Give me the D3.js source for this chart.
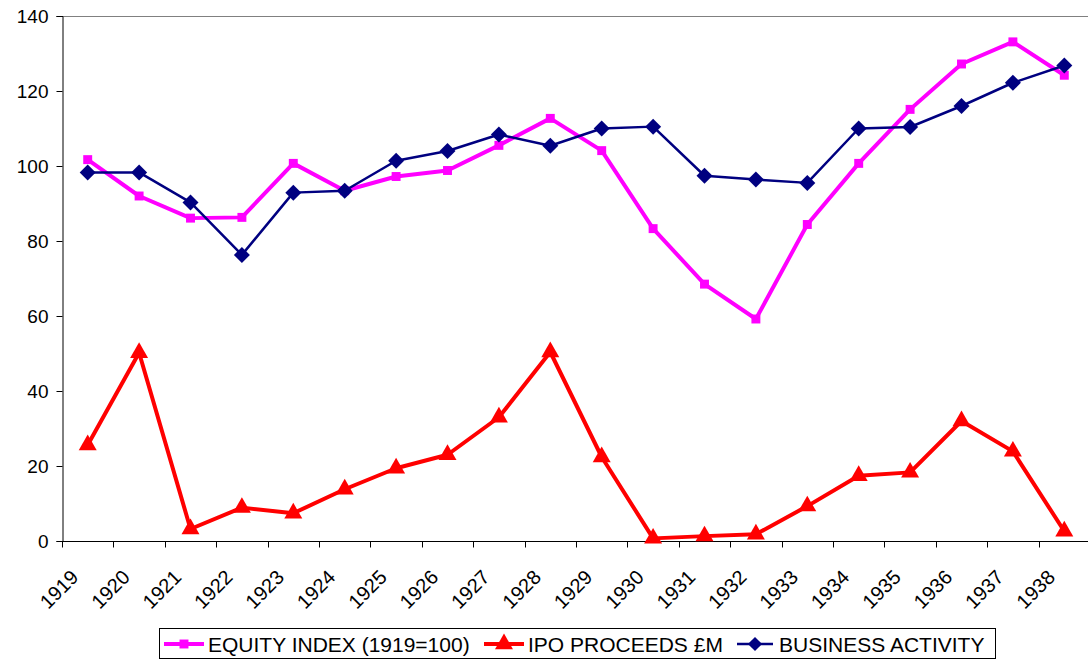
<!DOCTYPE html>
<html>
<head>
<meta charset="utf-8">
<script src="https://cdn.jsdelivr.net/npm/d3@7"></script>
<style>
  body { margin: 0; background: #fff; }
  svg { display: block; font-family: "Liberation Sans", Arial, sans-serif; }
</style>
</head>
<body>
<div id="chart"></div>
<script>
const years = ["1919","1920","1921","1922","1923","1924","1925","1926","1927","1928",
               "1929","1930","1931","1932","1933","1934","1935","1936","1937","1938"];
const equityIndex = [101.7, 92, 86.1, 86.3, 100.7, 93.4, 97.2, 98.8, 105.5, 112.7,
                     104.1, 83.3, 68.5, 59.2, 84.4, 100.7, 115.1, 127.2, 133.1, 124.2];
const ipoProceeds = [25.6, 50.2, 3.2, 8.9, 7.4, 13.8, 19.4, 23, 33, 50.4,
                     22.4, 0.7, 1.3, 1.8, 9.3, 17.4, 18.3, 32, 23.9, 2.6];
const businessActivity = [98.3, 98.3, 90.3, 76.3, 92.9, 93.4, 101.4, 104, 108.4, 105.4,
                          110, 110.5, 97.4, 96.4, 95.5, 110, 110.4, 116, 122.2, 126.8];
const yTicks = [0, 20, 40, 60, 80, 100, 120, 140];
const seriesNames = ["EQUITY INDEX (1919=100)", "IPO PROCEEDS £M", "BUSINESS ACTIVITY"];

const width = 1088, height = 660;
const margin = {top: 16, left: 62, bottom: 119};
const plotBottom = height - margin.bottom;

const svg = d3.select("#chart")
  .append("svg")
    .attr("width", width)
    .attr("height", height);

const x = d3.scaleBand().domain(years).range([margin.left, margin.left + 20 * 51.4]);
const y = d3.scaleLinear().domain([0, 140]).range([plotBottom, margin.top]);

// top border of plot area
svg.append("line")
  .attr("x1", margin.left).attr("x2", width)
  .attr("y1", margin.top + 0.5).attr("y2", margin.top + 0.5)
  .attr("stroke", "#808080").attr("stroke-width", 1);

// y axis
const yAxis = svg.append("g")
  .attr("transform", `translate(${margin.left + 0.5},0)`)
  .call(d3.axisLeft(y).tickValues(yTicks).tickSize(6).tickPadding(8));
yAxis.attr("font-size", 19).attr("font-family", "Liberation Sans, Arial, sans-serif");
yAxis.select(".domain").attr("stroke", "#000");
yAxis.selectAll("text").attr("fill", "#000");

// x axis: ticks between categories
const xAxis = svg.append("g")
  .attr("transform", `translate(0,${plotBottom + 0.5})`);
xAxis.append("line")
  .attr("x1", margin.left).attr("x2", width)
  .attr("stroke", "#000");
xAxis.selectAll(".tick")
  .data(years)
  .enter()
  .append("line")
  .attr("x1", d => Math.round(x(d)) + 0.5)
  .attr("x2", d => Math.round(x(d)) + 0.5)
  .attr("y1", 0).attr("y2", 6)
  .attr("stroke", "#000");
xAxis.selectAll("text")
  .data(years)
  .enter()
  .append("text")
  .attr("transform", d => `translate(${x(d) + x.bandwidth() / 2 - 8},${37}) rotate(-45)`)
  .attr("text-anchor", "end")
  .attr("font-size", 20)
  .attr("fill", "#000")
  .text(d => d);

const cx = d => x(d) + x.bandwidth() / 2;

function drawSeries(values, color, lineWidth, symbol, size) {
  const pts = values.map((v, i) => [cx(years[i]), y(v)]);
  svg.append("path")
    .datum(pts)
    .attr("fill", "none")
    .attr("stroke", color)
    .attr("stroke-width", lineWidth)
    .attr("stroke-linejoin", "round")
    .attr("d", d3.line());
  svg.append("g")
    .selectAll("path")
    .data(pts)
    .enter()
    .append("path")
    .attr("transform", d => `translate(${d[0]},${d[1]})`)
    .attr("d", d3.symbol().type(symbol).size(size))
    .attr("fill", color);
}

const diamond = {
  draw(ctx, size) {
    const r = Math.sqrt(size) / 2;
    ctx.moveTo(0, -r); ctx.lineTo(r, 0); ctx.lineTo(0, r); ctx.lineTo(-r, 0); ctx.closePath();
  }
};

drawSeries(equityIndex, "#ff00ff", 4, d3.symbolSquare, 80);
drawSeries(businessActivity, "#000080", 2.5, diamond, 256);
drawSeries(ipoProceeds, "#ff0000", 4, d3.symbolTriangle, 140);

// legend
const legend = svg.append("g");
legend.append("rect")
  .attr("x", 159.5).attr("y", 628.5)
  .attr("width", 836).attr("height", 30)
  .attr("fill", "#fff").attr("stroke", "#000");

const legendItems = [
  {name: seriesNames[0], color: "#ff00ff", lw: 4, sym: d3.symbolSquare, size: 80, x0: 164, x1: 204, tx: 208},
  {name: seriesNames[1], color: "#ff0000", lw: 4, sym: d3.symbolTriangle, size: 140, x0: 484, x1: 524, tx: 528},
  {name: seriesNames[2], color: "#000080", lw: 2.5, sym: diamond, size: 200, x0: 737, x1: 773, tx: 779}
];
const ly = 644;
legendItems.forEach(it => {
  legend.append("line")
    .attr("x1", it.x0).attr("x2", it.x1)
    .attr("y1", ly).attr("y2", ly)
    .attr("stroke", it.color).attr("stroke-width", it.lw);
  legend.append("path")
    .attr("transform", `translate(${(it.x0 + it.x1) / 2},${ly})`)
    .attr("d", d3.symbol().type(it.sym).size(it.size))
    .attr("fill", it.color);
  legend.append("text")
    .attr("x", it.tx).attr("y", ly)
    .attr("dy", "0.36em")
    .attr("font-size", 21)
    .attr("fill", "#000")
    .text(it.name);
});
</script>
</body>
</html>
